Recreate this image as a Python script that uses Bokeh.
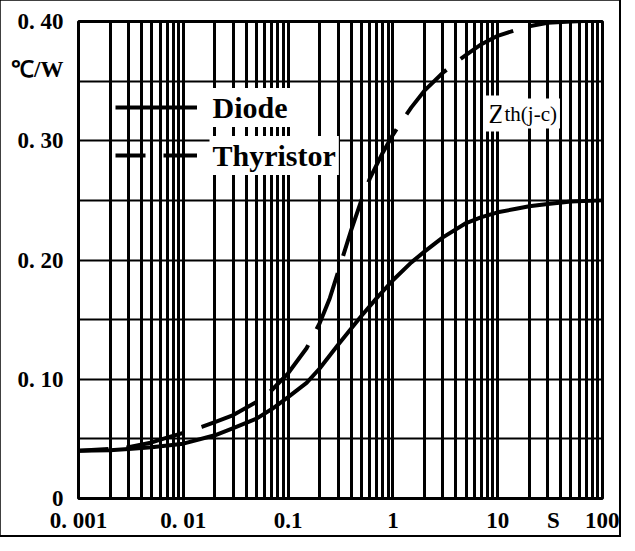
import numpy as np
from bokeh.plotting import figure
from bokeh.models import (Range1d, FixedTicker, CustomJSTickFormatter, Label,
                          Legend, LegendItem)
from bokeh.core.properties import value
from bokeh.embed import file_html
from bokeh.resources import INLINE

# ---- data -------------------------------------------------------------
diode_time = [0.001, 0.002, 0.003, 0.005, 0.01, 0.02, 0.03, 0.05, 0.07, 0.1,
              0.15, 0.2, 0.3, 0.5, 0.7, 1, 1.5, 2, 3, 5, 7, 10, 15, 20, 30,
              50, 100]
diode_zth = [0.040, 0.0405, 0.0415, 0.043, 0.046, 0.053, 0.059, 0.067, 0.075,
             0.085, 0.097, 0.109, 0.129, 0.153, 0.168, 0.183, 0.198, 0.207,
             0.219, 0.231, 0.236, 0.240, 0.243, 0.245, 0.247, 0.249, 0.250]

thy_time = [0.001, 0.002, 0.003, 0.005, 0.007, 0.01, 0.015, 0.02, 0.03, 0.05,
            0.07, 0.1, 0.15, 0.2, 0.25, 0.3, 0.4, 0.5, 0.6, 0.8, 1, 1.25, 1.5,
            2, 3, 4, 5, 7, 10, 15, 20, 30, 50, 100]
thy_zth = [0.040, 0.0415, 0.043, 0.047, 0.051, 0.055, 0.060, 0.064, 0.070,
           0.081, 0.091, 0.105, 0.126, 0.147, 0.168, 0.190, 0.225, 0.250,
           0.268, 0.290, 0.305, 0.318, 0.328, 0.342, 0.357, 0.366, 0.372,
           0.381, 0.388, 0.393, 0.396, 0.399, 0.400, 0.401]

x_tick_values = [0.001, 0.01, 0.1, 1, 10, 34, 100]
x_tick_labels = ["0. 001", "0. 01", "0.1", "1", "10", "S", "100"]
y_tick_values = [0.0, 0.1, 0.2, 0.3, 0.36, 0.4]
y_tick_labels = ["0", "0. 10", "0. 20", "0. 30", "\u2103/W", "0. 40"]
y_grid_major = [0.0, 0.1, 0.2, 0.3, 0.4]
y_grid_minor = [0.05, 0.15, 0.25, 0.35]
series_names = ["Diode", "Thyristor"]

# grid positions for the log axis (decades and their 2..9 multiples)
decades = [0.001, 0.01, 0.1, 1, 10, 100]
x_grid_minor = [k * d for d in decades[:-1] for k in range(2, 10)]

FONT = "Liberation Serif"

p = figure(width=619, height=535, x_axis_type="log",
           x_range=Range1d(0.001, 100), y_range=Range1d(0, 0.4),
           output_backend="svg", toolbar_location=None, title=None,
           min_border_left=78, min_border_right=17,
           min_border_top=21, min_border_bottom=31)
p.styles = {"outline": "3px solid black", "outline-offset": "-1px"}

p.outline_line_color = "black"
p.outline_line_width = 3
p.background_fill_color = "white"
p.border_fill_color = "white"

# grids
p.xgrid.ticker = FixedTicker(ticks=decades, minor_ticks=x_grid_minor)
p.xgrid.grid_line_color = "black"
p.xgrid.grid_line_width = 3
p.xgrid.minor_grid_line_color = "black"
p.xgrid.minor_grid_line_width = 3
p.ygrid.ticker = FixedTicker(ticks=y_grid_major, minor_ticks=y_grid_minor)
p.ygrid.grid_line_color = "black"
p.ygrid.grid_line_width = 2
p.ygrid.minor_grid_line_color = "black"
p.ygrid.minor_grid_line_width = 2

# axes
p.xaxis.ticker = FixedTicker(ticks=x_tick_values, minor_ticks=[])
p.xaxis.formatter = CustomJSTickFormatter(
    args=dict(vals=x_tick_values, labs=x_tick_labels),
    code="""
const lt = Math.log10(tick);
for (let i = 0; i < vals.length; i++) {
  if (Math.abs(lt - Math.log10(vals[i])) < 1e-6) return labs[i];
}
return "";
""")
p.yaxis.ticker = FixedTicker(ticks=y_tick_values, minor_ticks=[])
p.yaxis.formatter = CustomJSTickFormatter(
    args=dict(vals=y_tick_values, labs=y_tick_labels),
    code="""
for (let i = 0; i < vals.length; i++) {
  if (Math.abs(tick - vals[i]) < 1e-9) return labs[i];
}
return "";
""")
for ax in (p.xaxis, p.yaxis):
    ax.axis_line_color = None
    ax.major_tick_line_color = None
    ax.minor_tick_line_color = None
    ax.major_label_text_font = FONT
    ax.major_label_text_font_style = "bold"
    ax.major_label_text_font_size = "23px"
    ax.major_label_text_color = "black"
p.xaxis.major_label_standoff = 3
p.yaxis.major_label_standoff = 9

# curves
r_d = p.line(diode_time, diode_zth, line_width=4, line_color="black",
             line_join="round")
r_t = p.line(thy_time, thy_zth, line_width=4, line_color="black",
             line_dash="60 18", line_dash_offset=30, line_join="round")

legend = Legend(items=[LegendItem(label=value(""), renderers=[r_d]),
                       LegendItem(label=value(""), renderers=[r_t])],
                location=(37, 333), orientation="vertical",
                glyph_width=82, glyph_height=20, label_height=20,
                label_width=0, label_standoff=0, spacing=28, padding=0,
                margin=0, background_fill_alpha=0, border_line_alpha=0)
p.add_layout(legend)

frame_h = 483
for name, ypix in zip(series_names, [92, 140]):
    p.add_layout(Label(x=131, y=frame_h - ypix, x_units="screen",
                       y_units="screen", text=name, text_font=FONT,
                       text_font_style="bold", text_font_size="30px",
                       text_color="black",
                       text_baseline="middle", text_align="left",
                       background_fill_color="white", padding=3))

p.add_layout(Label(x=407, y=frame_h - 98, x_units="screen", y_units="screen",
                   text="Z", text_font=FONT, text_font_size="27px",
                   text_color="black",
                   text_baseline="alphabetic", text_align="left",
                   background_fill_color="white", padding=3))
p.add_layout(Label(x=423, y=frame_h - 98, x_units="screen", y_units="screen",
                   text="th(j-c)", text_font=FONT, text_font_size="21px",
                   text_color="black",
                   text_baseline="alphabetic", text_align="left",
                   background_fill_color="white", padding=3))

open("out.html", "w").write(file_html(p, INLINE))
